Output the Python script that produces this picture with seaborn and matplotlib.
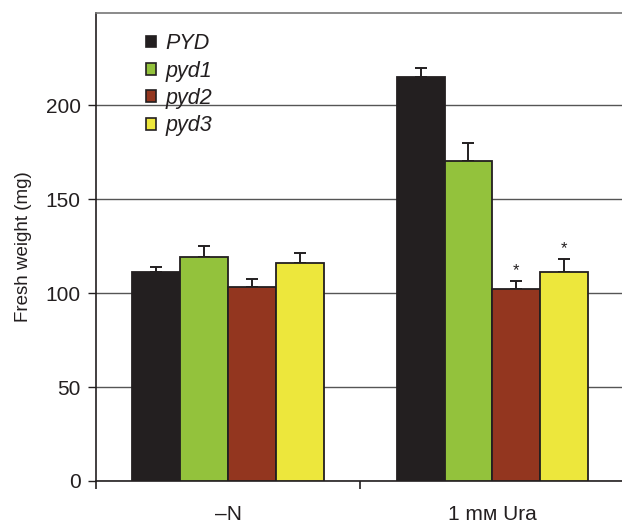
import matplotlib
matplotlib.use("Agg")
import matplotlib.pyplot as plt
import seaborn as sns
import pandas as pd
from matplotlib.patches import Patch

conditions = ["\u2013N", "1 m\u1d0d Ura"]
genotypes = ["PYD", "pyd1", "pyd2", "pyd3"]
means_N = [111, 119, 103, 116]
means_Ura = [215, 170, 102, 111]
err_N = [3, 6, 4.5, 5.5]
err_Ura = [5, 10, 4.5, 7]
significant_Ura = [False, False, True, True]
colors = ["#231f20", "#93c23c", "#93361f", "#ede73c"]

rows = []
for g, m, e in zip(genotypes, means_N, err_N):
    rows.append({"condition": conditions[0], "genotype": g, "weight": m, "err": e, "sig": False})
for g, m, e, s in zip(genotypes, means_Ura, err_Ura, significant_Ura):
    rows.append({"condition": conditions[1], "genotype": g, "weight": m, "err": e, "sig": s})
df = pd.DataFrame(rows)

sns.set_theme(style="white")
plt.rcParams["font.family"] = ["Liberation Sans", "DejaVu Sans"]
dark = "#231f20"

fig = plt.figure(figsize=(6.22, 5.23), dpi=100)
ax = fig.add_axes([96 / 622, 42 / 523, 1 - 96 / 622, (481 - 13) / 523])

sns.barplot(data=df, x="condition", y="weight", hue="genotype", order=conditions,
            hue_order=genotypes, palette=colors, width=0.726, saturation=1,
            edgecolor=dark, linewidth=1.3, errorbar=None, ax=ax, legend=False, zorder=3)

bar_containers = list(ax.containers)
for gi, cont in enumerate(bar_containers):
    sub = df[df["genotype"] == genotypes[gi]].set_index("condition").loc[conditions]
    for bar, e, s in zip(cont, sub["err"], sub["sig"]):
        x = bar.get_x() + bar.get_width() / 2
        y = bar.get_height()
        ax.errorbar([x], [y], yerr=[[0], [e]], fmt="none", ecolor=dark,
                    elinewidth=1.4, capsize=4.5, capthick=1.4, zorder=2)
        if s:
            ax.text(x, y + e + 1.5, "*", ha="center", va="bottom", fontsize=12, color=dark)

ax.set_xlim(-0.5, 1.49)
ax.set_ylim(0, 249)
ax.set_yticks([0, 50, 100, 150, 200])
ax.yaxis.grid(True, color="#555555", linewidth=1.0)
ax.xaxis.grid(False)
ax.set_axisbelow(True)

ax.set_xticks([0, 1])
ax.set_xticks([-0.5, 0.5], minor=True)
ax.tick_params(axis="x", which="major", length=0, pad=17, labelsize=15, colors=dark)
ax.tick_params(axis="x", which="minor", length=6, width=1.2, direction="out", color=dark, bottom=True)
ax.tick_params(axis="y", length=6, width=1.0, direction="out", left=True, labelsize=15,
               colors=dark, pad=5)
ax.set_xlabel("")
ax.set_ylabel("Fresh weight (mg)", fontsize=13.5, color=dark, labelpad=10)

for side in ["left", "bottom"]:
    ax.spines[side].set_color(dark)
    ax.spines[side].set_linewidth(1.2)
ax.spines["top"].set_color("#777777")
ax.spines["top"].set_linewidth(1.2)
ax.spines["right"].set_visible(False)

handles = [Patch(facecolor=c, edgecolor=dark, linewidth=1.2) for c in colors]
leg = ax.legend(handles, genotypes, loc="upper left", bbox_to_anchor=(0.074, 0.98),
                frameon=False, borderpad=0, handlelength=0.47, handleheight=0.47,
                handletextpad=0.45, labelspacing=0.3, prop={"size": 15.5, "style": "italic"})
for t in leg.get_texts():
    t.set_color(dark)

fig.savefig("out.png", dpi=100)
